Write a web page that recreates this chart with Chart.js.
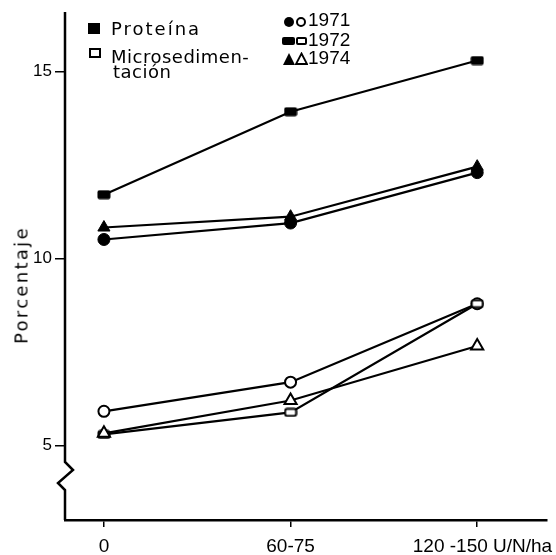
<!DOCTYPE html>
<html>
<head>
<meta charset="utf-8">
<script src="https://cdn.jsdelivr.net/npm/chart.js@4.4.0/dist/chart.umd.min.js"></script>
<style>
  body { margin: 0; background: #fff; }
  #wrap { position: relative; width: 556px; height: 555px; }
  .txt { position: absolute; color: #000; white-space: nowrap; font-family: "DejaVu Sans", sans-serif; }
  .mark { position: absolute; box-sizing: border-box; }
</style>
</head>
<body>
<div id="wrap">
  <canvas id="chart" width="556" height="555"></canvas>

  <!-- legend: series type -->
  <div class="mark" style="left:88px;top:23px;width:12px;height:11px;background:#000"></div>
  <div class="txt" style="left:111px;top:18px;font-size:18px;letter-spacing:2px">Proteína</div>
  <div class="mark" style="left:89px;top:48px;width:12px;height:10px;border:2px solid #000"></div>
  <div class="txt" style="left:111px;top:49px;font-size:18px;line-height:15px;letter-spacing:0.5px">Microsedimen-<br><span style="margin-left:2px">tación</span></div>

  <!-- legend: years -->
  <div class="mark" style="left:284px;top:17px;width:10px;height:10px;border-radius:50%;background:#000"></div>
  <div class="mark" style="left:296px;top:17px;width:10px;height:10px;border-radius:50%;border:2px solid #000"></div>
  <div class="txt" style="left:308px;top:9px;font-family:'Liberation Sans',sans-serif;font-size:19px">1971</div>
  <div class="mark" style="left:282px;top:37px;width:13px;height:8px;border-radius:2px;background:#000"></div>
  <div class="mark" style="left:296px;top:37px;width:11px;height:8px;border-radius:2px;border:2px solid #000"></div>
  <div class="txt" style="left:308px;top:29px;font-family:'Liberation Sans',sans-serif;font-size:19px">1972</div>
  <div class="mark" style="left:283px;top:53px;width:12px;height:12px;background:#000;clip-path:polygon(50% 0,100% 100%,0 100%)"></div>
  <svg class="mark" style="left:295px;top:52px" width="13" height="13"><polygon points="6.5,1.5 12,12 1,12" fill="none" stroke="#000" stroke-width="1.8"/></svg>
  <div class="txt" style="left:308px;top:47px;font-family:'Liberation Sans',sans-serif;font-size:19px">1974</div>

  <div class="txt" style="left:10px;top:285px;font-size:18px;letter-spacing:2.3px;transform:translate(-50%,-50%) rotate(-90deg);transform-origin:center;margin-left:11px">Porcentaje</div>
</div>
<script>
const positions = [0, 1, 2];
const doseLabels = ["0", "60-75", "\u00a0\u00a0120 -150 U/N/ha"];
const yTicks = [5, 10, 15];

// Proteína (filled marks)
const protein1971 = [10.51, 10.95, 12.3];
const protein1972 = [11.71, 13.93, 15.3];
const protein1974 = [10.83, 11.12, 12.46];
// Microsedimentación (open marks)
const micro1971 = [5.91, 6.69, 8.79];
const micro1972 = [5.29, 5.88, 8.79];
const micro1974 = [5.32, 6.2, 7.66];

function flatRect(filled) {
  const c = document.createElement("canvas");
  c.width = 14; c.height = 10;
  const g = c.getContext("2d");
  if (filled) {
    g.fillStyle = "#000";
    g.beginPath();
    g.roundRect(0.5, 0.5, 13, 9, 2);
    g.fill();
  } else {
    g.fillStyle = "#fff";
    g.strokeStyle = "#000";
    g.lineWidth = 2;
    g.beginPath();
    g.roundRect(1.5, 1.5, 11, 7, 2);
    g.fill();
    g.stroke();
  }
  return c;
}

function series(data, style, filled, radius) {
  return {
    data: positions.map((x, i) => ({ x: x, y: data[i] })),
    borderColor: "#000",
    borderWidth: 2.2,
    pointStyle: style,
    pointRadius: radius,
    pointBorderWidth: filled ? 1 : 2,
    pointBackgroundColor: filled ? "#000" : "#fff",
    pointBorderColor: "#000",
    tension: 0
  };
}

const brokenAxis = {
  id: "brokenAxis",
  afterDraw(chart) {
    const { ctx, chartArea } = chart;
    const x = chartArea.left;
    const yb = chartArea.bottom;
    ctx.save();
    ctx.strokeStyle = "#000";
    ctx.lineWidth = 2.5;
    ctx.lineJoin = "miter";
    ctx.beginPath();
    ctx.moveTo(x, chartArea.top);
    ctx.lineTo(x, yb - 58);
    ctx.lineTo(x + 8, yb - 50);
    ctx.lineTo(x - 7, yb - 37);
    ctx.lineTo(x, yb - 30);
    ctx.lineTo(x, yb);
    ctx.stroke();
    ctx.restore();
  }
};

new Chart(document.getElementById("chart"), {
  type: "line",
  data: {
    datasets: [
      series(micro1974, "triangle", false, 7),
      series(micro1972, flatRect(false), false, 6),
      series(micro1971, "circle", false, 5.5),
      series(protein1974, "triangle", true, 7),
      series(protein1971, "circle", true, 6),
      series(protein1972, flatRect(true), true, 6)
    ]
  },
  options: {
    responsive: false,
    animation: false,
    devicePixelRatio: 1,
    layout: { padding: { top: 12, right: 8, left: 0, bottom: 0 } },
    plugins: { legend: { display: false }, tooltip: { enabled: false } },
    scales: {
      x: {
        type: "linear",
        min: -0.2086,
        max: 2.374,
        afterFit: s => { s.height = 35; s.paddingLeft = 0; s.paddingRight = 0; },
        afterBuildTicks: s => { s.ticks = positions.map(v => ({ value: v })); },
        ticks: {
          color: "#000",
          padding: 8,
          maxRotation: 0,
          autoSkip: false,
          font: { family: "Liberation Sans", size: 19 },
          callback: v => doseLabels[positions.indexOf(v)]
        },
        grid: { drawOnChartArea: false, color: "#000", lineWidth: 1.5, tickLength: 7 },
        border: { display: true, color: "#000", width: 2.5 }
      },
      y: {
        min: 3,
        max: 16.6,
        afterFit: s => { s.width = 65; s.paddingTop = 0; s.paddingBottom = 0; },
        afterBuildTicks: s => { s.ticks = yTicks.map(v => ({ value: v })); },
        ticks: {
          color: "#000",
          padding: 3,
          font: { family: "Liberation Sans", size: 17 }
        },
        grid: { drawOnChartArea: false, color: "#000", lineWidth: 1.5, tickLength: 10 },
        border: { display: false }
      }
    }
  },
  plugins: [brokenAxis]
});
</script>
</body>
</html>
